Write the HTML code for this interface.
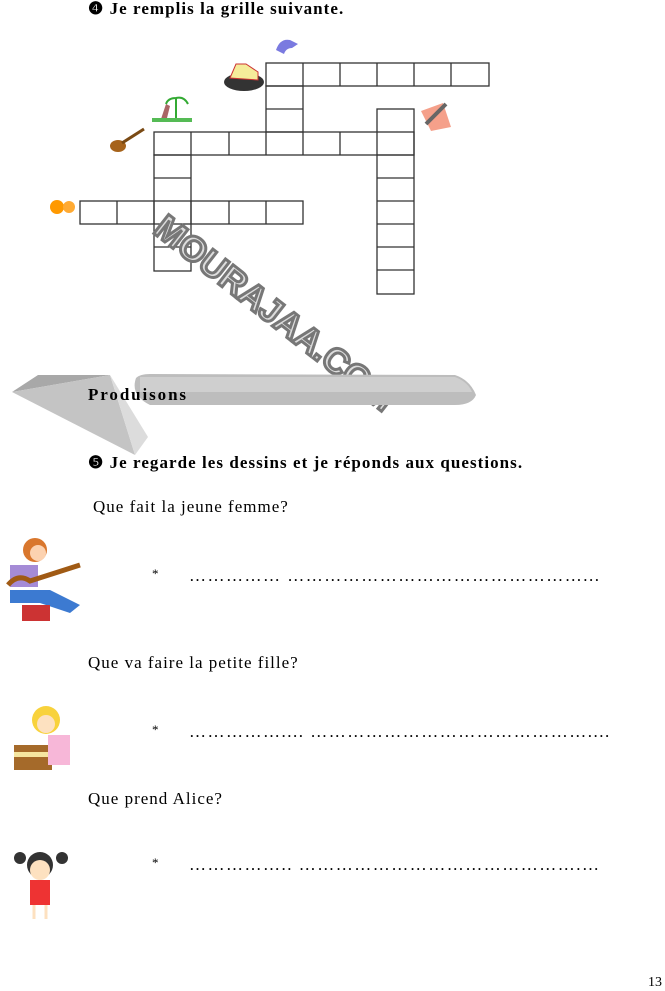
<!DOCTYPE html>
<html><head><meta charset="utf-8"><style>
body{margin:0;width:665px;height:991px;background:#fff;position:relative;overflow:hidden;font-family:"Liberation Serif",serif;color:#000}
.t{position:absolute;font-size:17px;letter-spacing:1px;white-space:nowrap;line-height:1}
.d{letter-spacing:1.5px}
</style></head><body>
<div class="t" style="left:88px;top:0px;font-weight:bold;letter-spacing:1.05px">❹ Je remplis la grille suivante.</div>

<svg style="position:absolute;left:0;top:0" width="665" height="991">
<g fill="none" stroke="#333" stroke-width="1.3">
<rect x="266" y="63" width="223" height="23"/>
<path d="M303 63v23M340 63v23M377 63v23M414 63v23M451 63v23"/>
<rect x="266" y="86" width="37" height="46"/><path d="M266 109h37"/>
<rect x="377" y="109" width="37" height="185"/>
<path d="M377 155h37M377 178h37M377 201h37M377 224h37M377 247h37M377 270h37"/>
<rect x="154" y="132" width="260" height="23"/>
<path d="M191 132v23M229 132v23M266 132v23M303 132v23M340 132v23"/>
<rect x="154" y="155" width="37" height="116"/>
<path d="M154 178h37M154 247h37"/>
<rect x="80" y="201" width="223" height="23"/>
<path d="M117 201v23M154 201v23M191 201v23M229 201v23M266 201v23"/>
</g>
<path d="M276 50 q4-12 14-10 l8 4 -6 4 q-6 0-8 6z" fill="#7a7ae0"/>
<ellipse cx="244" cy="82" rx="20" ry="9" fill="#333"/>
<path d="M230 78 l6-14 h10 l12 8 v8z" fill="#f5ec9a" stroke="#c33"/>
<path d="M160 122 l6-18 4 2 -4 16z" fill="#a66"/><path d="M176 120 v-22 M176 98 q-8 0 -10 6 M176 98 q8-2 12 6" stroke="#3a3" stroke-width="2" fill="none"/>
<rect x="152" y="118" width="40" height="4" fill="#5b5"/>
<ellipse cx="118" cy="146" rx="8" ry="6" fill="#a6631b"/><path d="M122 143 l22-14" stroke="#7a4a14" stroke-width="3"/>
<circle cx="57" cy="207" r="7" fill="#f90"/><circle cx="69" cy="207" r="6" fill="#fa3"/>
<path d="M421 111 l22-8 8 24 -20 4z" fill="#f5a08a"/><path d="M426 124 l20-20" stroke="#666" stroke-width="4"/>
<text x="0" y="0" transform="translate(152,232) rotate(38)" font-family="Liberation Sans,sans-serif" font-weight="bold" font-size="35" fill="#ddd" stroke="#777" stroke-width="3">MOURAJAA.COM</text>
<path d="M12 392 L38 375 L110 375 Z" fill="#a8a8a8"/>
<path d="M12 392 L110 375 L135 455 Z" fill="#c4c4c4"/>
<path d="M110 375 L148 437 L135 455 Z" fill="#dcdcdc"/>
<path d="M136 378 Q140 374 150 374 L455 375 Q470 380 476 395 Q472 405 455 405 L150 405 Q130 395 136 378Z" fill="#bdbdbd"/>
<path d="M140 377 L455 377 Q468 382 472 392 L140 392Z" fill="#cfcfcf"/>
<circle cx="35" cy="550" r="12" fill="#d9772d"/><circle cx="38" cy="553" r="8" fill="#fcd2b0"/>
<rect x="10" y="565" width="28" height="22" fill="#a58bd6"/>
<path d="M10 590 h40 l30 15 -10 8 -30-10 h-30z" fill="#3c7ad1"/>
<path d="M8 585 q10-12 22-4 l50-16" stroke="#a05a14" stroke-width="5" fill="none"/>
<rect x="22" y="605" width="28" height="16" fill="#c33"/>
<circle cx="46" cy="720" r="14" fill="#f8d23c"/><circle cx="46" cy="724" r="9" fill="#fde1c0"/>
<rect x="14" y="745" width="38" height="25" fill="#a56a2a"/><rect x="14" y="752" width="38" height="5" fill="#f5e6a0"/>
<rect x="48" y="735" width="22" height="30" fill="#f7b7d8"/>
<circle cx="40" cy="865" r="13" fill="#333"/><circle cx="40" cy="870" r="10" fill="#fde1c0"/>
<circle cx="20" cy="858" r="6" fill="#333"/><circle cx="62" cy="858" r="6" fill="#333"/>
<rect x="30" y="880" width="20" height="25" fill="#e33"/>
<path d="M34 905v14M46 905v14" stroke="#fde1c0" stroke-width="3"/>
</svg>

<div class="t" style="left:88px;top:386px;font-weight:bold;letter-spacing:1.9px">Produisons</div>
<div class="t" style="left:88px;top:454px;font-weight:bold;letter-spacing:1.05px">❺ Je regarde les dessins et je réponds aux questions.</div>
<div class="t" style="left:93px;top:498px">Que fait la jeune femme?</div>
<div class="t" style="left:152px;top:567px;font-size:13px">*</div>
<div class="t d" style="left:189px;top:567px">……………  …………………………………………...</div>
<div class="t" style="left:88px;top:654px">Que va faire la petite fille?</div>
<div class="t" style="left:152px;top:723px;font-size:13px">*</div>
<div class="t d" style="left:189px;top:723px">……………....  ………………………………………....</div>
<div class="t" style="left:88px;top:790px">Que prend Alice?</div>
<div class="t" style="left:152px;top:856px;font-size:13px">*</div>
<div class="t d" style="left:189px;top:856px">……………..  ……………………………………….…</div>
<div class="t" style="left:648px;top:976px;font-size:14px;letter-spacing:0">13</div>
</body></html>
